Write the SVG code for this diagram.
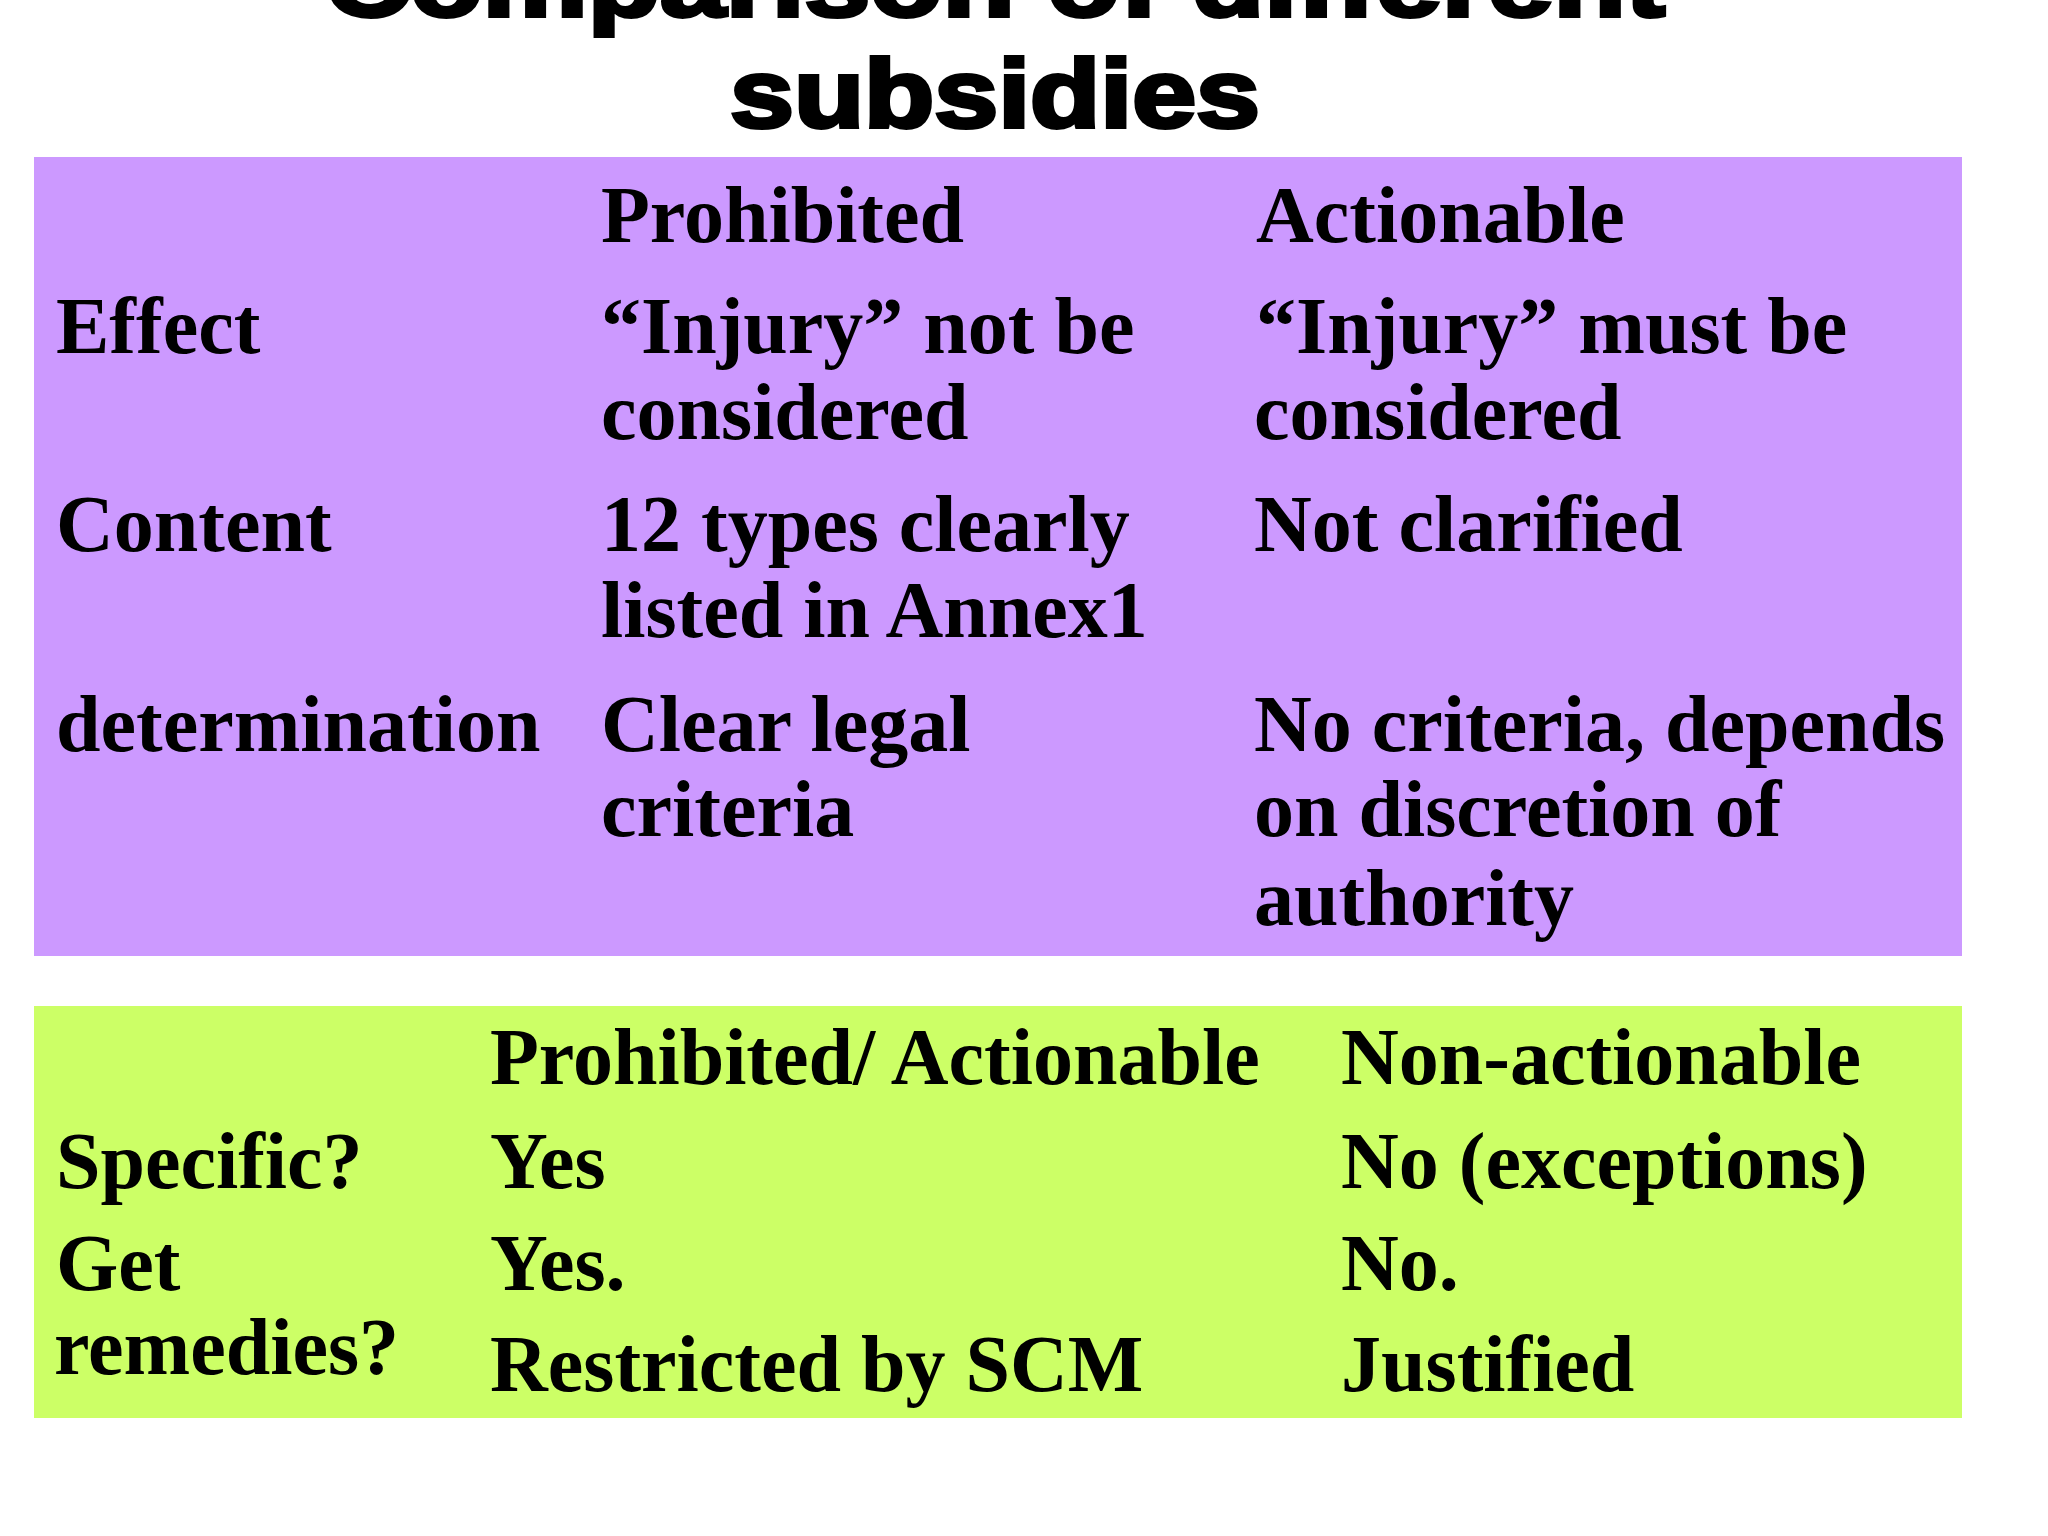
<svg xmlns="http://www.w3.org/2000/svg" width="2048" height="1536" viewBox="0 0 2048 1536">
<style>
.t{font-family:"Liberation Sans",Arial,sans-serif;font-weight:900;font-size:96px;fill:#000;stroke:#000;stroke-width:4}
.b{font-family:"Palatino Linotype","Liberation Serif",serif;font-weight:bold;font-size:80px;fill:#000}
</style>
<rect width="2048" height="1536" fill="#fff"/>
<g id="title">
<text class="t" x="995" y="16" text-anchor="middle" textLength="1340" lengthAdjust="spacingAndGlyphs">Comparison of different</text>
<text class="t" x="995" y="127" text-anchor="middle" textLength="530" lengthAdjust="spacingAndGlyphs">subsidies</text>
</g>
<g id="table1">
<rect x="34" y="157" width="1928" height="799" fill="#CC99FF"/>
<text class="b" x="601" y="242">Prohibited</text>
<text class="b" x="1256" y="242">Actionable</text>
<text class="b" x="56" y="353">Effect</text>
<text class="b" x="601" y="353">“Injury” not be</text>
<text class="b" x="601" y="439">considered</text>
<text class="b" x="1256" y="353">“Injury” must be</text>
<text class="b" x="1254" y="439">considered</text>
<text class="b" x="56" y="551">Content</text>
<text class="b" x="601" y="551">12 types clearly</text>
<text class="b" x="601" y="637">listed in Annex1</text>
<text class="b" x="1254" y="551">Not clarified</text>
<text class="b" x="56" y="751">determination</text>
<text class="b" x="601" y="751">Clear legal</text>
<text class="b" x="601" y="836">criteria</text>
<text class="b" x="1254" y="751">No criteria, depends</text>
<text class="b" x="1254" y="836">on discretion of</text>
<text class="b" x="1254" y="925">authority</text>
</g>
<g id="table2">
<rect x="34" y="1006" width="1928" height="412" fill="#CCFF66"/>
<text class="b" x="490" y="1084">Prohibited/ Actionable</text>
<text class="b" x="1341" y="1084">Non-actionable</text>
<text class="b" x="56" y="1188">Specific?</text>
<text class="b" x="490" y="1188">Yes</text>
<text class="b" x="1341" y="1188">No (exceptions)</text>
<text class="b" x="56" y="1290">Get</text>
<text class="b" x="54" y="1374">remedies?</text>
<text class="b" x="490" y="1290">Yes.</text>
<text class="b" x="490" y="1391">Restricted by SCM</text>
<text class="b" x="1341" y="1290">No.</text>
<text class="b" x="1341" y="1391">Justified</text>
</g>
</svg>
